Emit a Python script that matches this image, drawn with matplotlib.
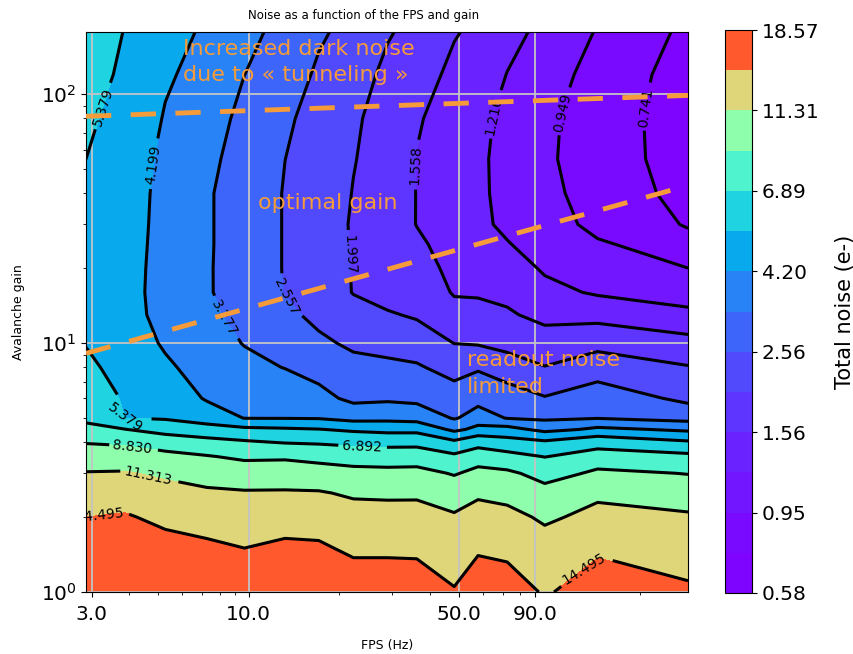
import numpy as np
import matplotlib
matplotlib.use('Agg')
import matplotlib.pyplot as plt
from matplotlib.ticker import FixedLocator, FixedFormatter, NullFormatter

# ---------------- data ----------------
fps = [2.87, 3.87, 5.27, 7.25, 9.67, 13.2, 17.1, 22.3, 29.0, 36.25,
       48.3, 58.0, 72.5, 96.7, 145.0, 290.0]
gain = [1, 1.5, 2, 2.5, 3, 3.5, 4, 4.5, 5, 6, 8, 10, 13, 16, 20, 25,
        30, 40, 55, 80, 120, 178]

# total noise (e-), one row per gain value, one column per fps value
noise = [
    [18.55, 18.36, 18.14, 18.14, 17.69, 18.14, 17.91, 16.43, 16.43, 16.43, 14.69, 16.71, 16.02, 14.16, 16.43, 14.95],
    [16.43, 16.84, 15.63, 15.06, 14.50, 15.10, 14.95, 13.84, 13.84, 13.74, 12.79, 13.95, 13.64, 12.29, 13.81, 12.88],
    [14.50, 14.80, 13.64, 13.04, 12.75, 12.98, 12.88, 12.26, 12.20, 12.20, 11.58, 12.26, 11.99, 10.91, 12.14, 11.61],
    [12.69, 12.91, 12.17, 11.70, 11.52, 11.55, 11.49, 10.97, 10.89, 10.91, 10.03, 10.91, 10.54, 9.45, 10.72, 10.08],
    [11.44, 11.52, 10.86, 10.23, 9.91, 9.93, 9.76, 9.43, 9.36, 9.40, 8.67, 9.40, 9.17, 8.10, 9.20, 8.75],
    [9.93, 9.91, 9.36, 8.95, 8.47, 8.54, 8.18, 7.91, 7.81, 7.87, 7.18, 7.87, 7.39, 6.85, 7.67, 7.25],
    [8.71, 8.45, 7.89, 7.39, 7.07, 6.78, 6.68, 6.47, 6.36, 6.36, 5.60, 6.23, 5.86, 5.55, 6.17, 5.52],
    [7.14, 6.93, 6.23, 5.89, 5.63, 5.52, 5.42, 5.16, 5.00, 5.00, 3.95, 4.51, 4.53, 3.90, 4.40, 3.99],
    [6.70, 5.38, 5.26, 4.79, 4.17, 4.16, 4.13, 3.83, 3.90, 3.79, 3.21, 3.62, 3.24, 3.13, 3.24, 2.98],
    [6.26, 5.20, 4.88, 4.09, 3.89, 3.78, 3.51, 3.08, 3.14, 3.07, 2.83, 3.02, 2.85, 2.59, 2.85, 2.40],
    [5.64, 4.86, 4.33, 3.81, 3.49, 3.25, 2.96, 2.72, 2.67, 2.62, 2.31, 2.48, 2.21, 2.01, 2.26, 2.02],
    [5.32, 4.64, 4.09, 3.60, 3.24, 2.98, 2.66, 2.45, 2.36, 2.24, 1.99, 1.95, 1.85, 1.72, 1.84, 1.67],
    [5.21, 4.50, 3.90, 3.40, 3.06, 2.68, 2.40, 2.14, 2.04, 1.94, 1.67, 1.66, 1.60, 1.45, 1.42, 1.27],
    [5.20, 4.48, 3.86, 3.34, 2.92, 2.53, 2.24, 1.98, 1.81, 1.76, 1.53, 1.52, 1.47, 1.29, 1.18, 1.10],
    [5.21, 4.50, 3.87, 3.34, 2.91, 2.52, 2.23, 1.97, 1.79, 1.68, 1.47, 1.42, 1.34, 1.18, 1.07, 0.95],
    [5.23, 4.53, 3.89, 3.35, 2.91, 2.52, 2.22, 1.96, 1.75, 1.61, 1.42, 1.33, 1.23, 1.09, 0.97, 0.82],
    [5.25, 4.55, 3.91, 3.35, 2.91, 2.52, 2.22, 1.95, 1.72, 1.55, 1.37, 1.27, 1.16, 1.03, 0.89, 0.72],
    [5.32, 4.58, 3.93, 3.35, 2.91, 2.52, 2.24, 1.98, 1.73, 1.55, 1.37, 1.26, 1.14, 1.00, 0.85, 0.66],
    [5.38, 4.66, 4.00, 3.43, 2.98, 2.56, 2.28, 2.02, 1.75, 1.55, 1.36, 1.26, 1.13, 0.98, 0.83, 0.63],
    [5.62, 4.83, 4.13, 3.56, 3.09, 2.64, 2.34, 2.06, 1.80, 1.59, 1.39, 1.28, 1.15, 0.99, 0.83, 0.62],
    [5.94, 5.10, 4.34, 3.75, 3.28, 2.81, 2.47, 2.16, 1.90, 1.70, 1.47, 1.35, 1.21, 1.04, 0.86, 0.63],
    [6.09, 5.33, 4.63, 4.00, 3.49, 3.01, 2.65, 2.32, 2.04, 1.83, 1.59, 1.46, 1.31, 1.13, 0.93, 0.68],
]

levels = [0.578, 0.741, 0.949, 1.216, 1.558, 1.997, 2.557, 3.277, 4.199,
          5.379, 6.892, 8.830, 11.313, 14.495, 18.573]
cbar_ticks = levels[::2]

xticks = [3, 10, 50, 90]
xticklabels = ['3.0', '10.0', '50.0', '90.0']

# dashed "optimal gain" boundaries
line_fps = [2.87, 290.0]
upper_line_gain = [81.6, 99.0]
lower_line_gain = [9.1, 43.0]

# contour-label anchor points (fps, gain)
label_fps = [3.12, 4.40, 8.32, 12.98, 22.0, 35.7, 64.5, 104.4, 190.0,
             3.87, 4.11, 4.68, 3.19, 136.6, 23.8]
label_gain = [90.3, 52.8, 12.6, 14.9, 22.6, 51.9, 82.4, 86.3, 90.3,
              4.91, 3.9, 3.09, 2.1, 1.15, 3.72]

# ---------------- figure ----------------
W, H = 854, 654
fig = plt.figure(figsize=(W / 100, H / 100), dpi=100)
ax = fig.add_axes([86 / W, (H - 592) / H, 602 / W, 560 / H])
cax = fig.add_axes([725 / W, (H - 593) / H, 27 / W, 563 / H])

X, Y = np.meshgrid(fps, gain)
Z = np.array(noise)

ax.set_xscale('log')
ax.set_yscale('log')
cf = ax.contourf(X, Y, Z, levels=levels, cmap='rainbow')
cs = ax.contour(X, Y, Z, levels=levels, colors='k', linewidths=2.2)
ax.clabel(cs, fmt='%.3f', fontsize=10, inline=True,
          manual=list(zip(label_fps, label_gain)))

ax.set_xlim(2.87, 290)
ax.set_ylim(1, 178)

ax.xaxis.set_major_locator(FixedLocator(xticks))
ax.xaxis.set_major_formatter(FixedFormatter(xticklabels))
ax.xaxis.set_minor_formatter(NullFormatter())
ax.tick_params(labelsize=14.5)
ax.tick_params(axis='x', which='major', pad=5.5)
ax.grid(True, which='major', color='#c4c4c4', lw=1.3)

orange = '#f59b3a'
ax.plot(line_fps, upper_line_gain, color=orange, lw=3.5, ls=(0, (5.2, 4.0)),
        zorder=4)
ax.plot(line_fps, lower_line_gain, color=orange, lw=3.5, ls=(0, (5.2, 4.0)),
        zorder=4)

ax.text(0.161, 0.987, 'Increased dark noise\ndue to « tunneling »',
        transform=ax.transAxes, ha='left', va='top', fontsize=16,
        color=orange, zorder=5, linespacing=1.35)
ax.text(0.286, 0.695, 'optimal gain', transform=ax.transAxes, ha='left',
        va='center', fontsize=16, color=orange, zorder=5)
ax.text(0.633, 0.432, 'readout noise\nlimited', transform=ax.transAxes,
        ha='left', va='top', fontsize=16, color=orange, zorder=5,
        linespacing=1.45)

ax.set_xlabel('FPS (Hz)', fontsize=9, labelpad=11)
ax.set_ylabel('Avalanche gain', fontsize=9, labelpad=11)
fig.text(364 / W, 1 - 15 / H, 'Noise as a function of the FPS and gain',
         ha='center', va='center', fontsize=8.5)

cb = fig.colorbar(cf, cax=cax, ticks=cbar_ticks, format='%.2f')
cb.ax.tick_params(labelsize=14.5)
cb.set_label('Total noise (e-)', fontsize=15, labelpad=11)

fig.savefig('out.png', dpi=100)
